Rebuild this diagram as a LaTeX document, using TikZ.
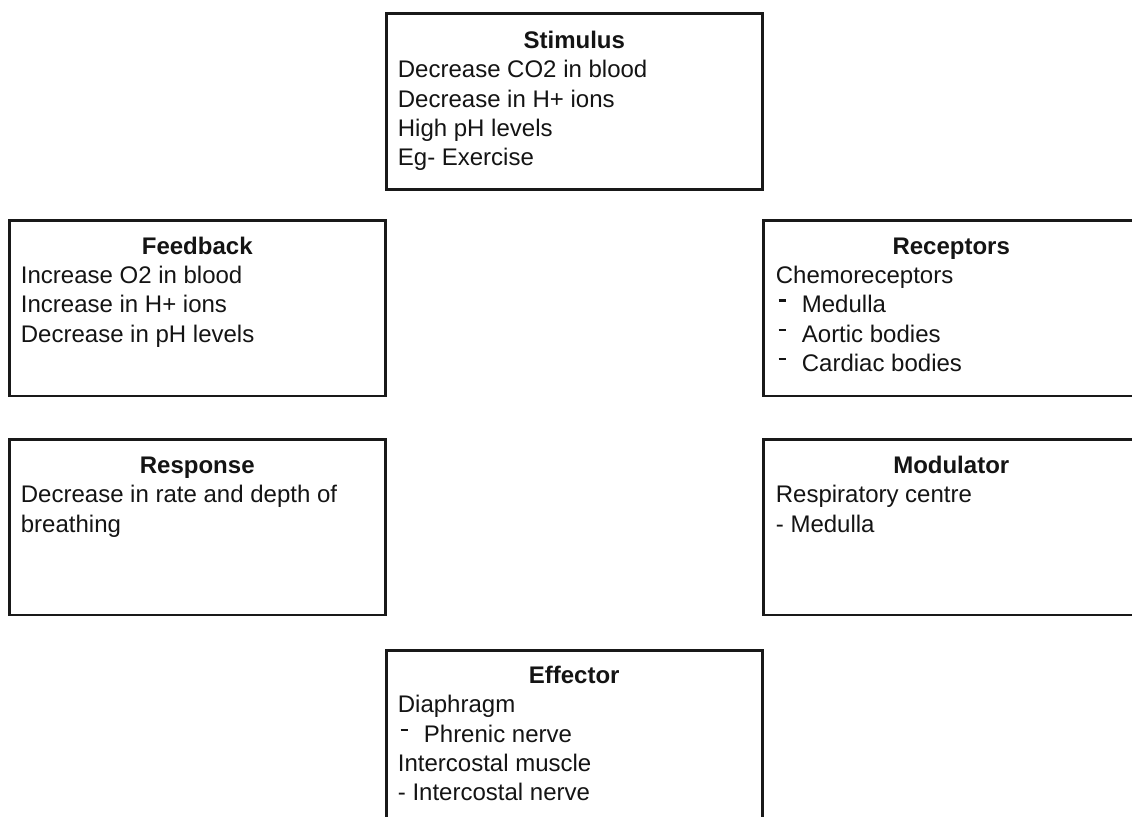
\documentclass[tikz,border=0pt]{standalone}
\usepackage{fontspec}
\setmainfont{Liberation Sans}
\usetikzlibrary{calc}
% raised bullet dash used in the indented lists
\newcommand\rdash{\makebox[13pt][l]{\kern1.4pt\rule[5.6pt]{3.6pt}{1.1pt}}}
% stack of lines whose baseline is the first line's baseline
\newcommand\blines[1]{\vtop{\baselineskip=14.65pt\lineskiplimit=-20pt #1}}
\begin{document}
\begin{tikzpicture}[x=0.5pt,y=-0.5pt,
  txt/.style={font=\fontsize{12pt}{14.65pt}\selectfont, text=black!92, inner sep=0pt},
  box/.style={draw=black!90, line width=1.25pt, minimum width=188pt,
    minimum height=87.75pt, anchor=north west, inner sep=0pt},
  title/.style={txt, anchor=base, font=\fontsize{12pt}{14.65pt}\selectfont\bfseries},
  body/.style={txt, anchor=base west}]
\useasboundingbox (0,0) rectangle (1132,816);
\fill[white] (0,0) rectangle (1132,816);
\clip (0,0) rectangle (1132,816);

% Stimulus
\node[box, minimum height=88pt] (stim) at (385,12) {};
\node[title] (stimT) at ($(stim.north)+(0,36)$) {Stimulus};
\node[body] (stimB) at ($(stim.north west)+(12.5,65.8)$) {\blines{%
  \hbox{Decrease CO2 in blood}\hbox{Decrease in H+ ions}%
  \hbox{High pH levels}\hbox{Eg- Exercise}}};

% Feedback
\node[box] (feed) at (8,219) {};
\node[title] (feedT) at ($(feed.north)+(0,35.5)$) {Feedback};
\node[body] (feedB) at ($(feed.north west)+(12.5,64.5)$) {\blines{%
  \hbox{Increase O2 in blood}\hbox{Increase in H+ ions}%
  \hbox{Decrease in pH levels}}};

% Receptors
\node[box] (rec) at (762,219) {};
\node[title] (recT) at ($(rec.north)+(0,35.5)$) {Receptors};
\node[body] (recB) at ($(rec.north west)+(13.5,64.5)$) {\blines{%
  \hbox{Chemoreceptors}\hbox{\rdash Medulla}%
  \hbox{\rdash Aortic bodies}\hbox{\rdash Cardiac bodies}}};

% Response
\node[box] (resp) at (8,438) {};
\node[title] (respT) at ($(resp.north)+(0,35.5)$) {Response};
\node[body] (respB) at ($(resp.north west)+(12.5,64.8)$) {\blines{%
  \hbox{Decrease in rate and depth of}\hbox{breathing}}};

% Modulator
\node[box] (mod) at (762,438) {};
\node[title] (modT) at ($(mod.north)+(0,35.5)$) {Modulator};
\node[body] (modB) at ($(mod.north west)+(13.5,64.8)$) {\blines{%
  \hbox{Respiratory centre}\hbox{- Medulla}}};

% Effector
\node[box, minimum height=88pt] (eff) at (385,649) {};
\node[title] (effT) at ($(eff.north)+(0,34.5)$) {Effector};
\node[body] (effB) at ($(eff.north west)+(12.5,63.8)$) {\blines{%
  \hbox{Diaphragm}\hbox{\rdash Phrenic nerve}%
  \hbox{Intercostal muscle}\hbox{- Intercostal nerve}}};
\end{tikzpicture}
\end{document}
